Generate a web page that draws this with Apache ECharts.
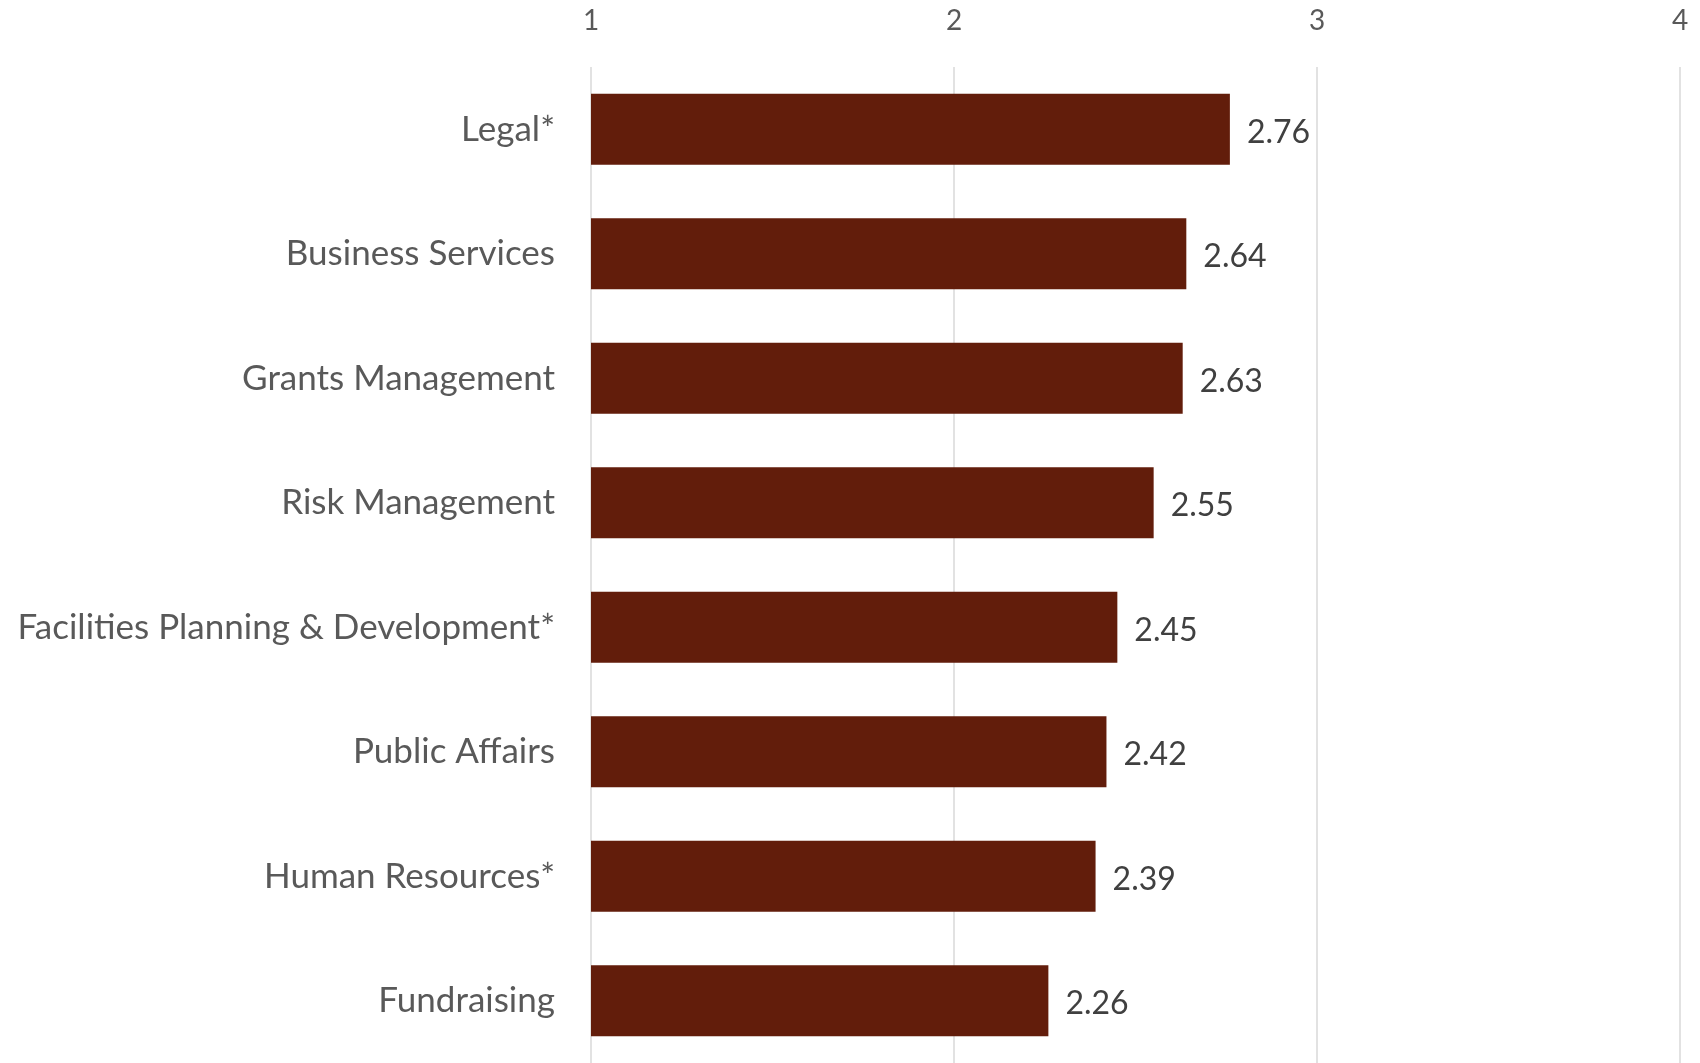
<!DOCTYPE html>
<html>
<head>
<meta charset="utf-8">
<script src="https://cdn.jsdelivr.net/npm/echarts@6/dist/echarts.min.js"></script>
<style>
  html, body { margin: 0; padding: 0; background: #fff; }
  #chart { width: 1700px; height: 1063px; }
</style>
</head>
<body>
<div id="chart"></div>
<script>
// departments, top to bottom
const departments = [
  'Legal*',
  'Business Services',
  'Grants Management',
  'Risk Management',
  'Facilities Planning & Development*',
  'Public Affairs',
  'Human Resources*',
  'Fundraising'
];
const scores = [2.76, 2.64, 2.63, 2.55, 2.45, 2.42, 2.39, 2.26];
const scaleTicks = [1, 2, 3, 4];

const chart = echarts.init(document.getElementById('chart'));

const option = {
  animation: false,
  grid: {
    left: 591,
    right: 20,
    top: 67,
    bottom: 0,
    containLabel: false
  },
  xAxis: {
    type: 'value',
    position: 'top',
    min: scaleTicks[0],
    max: scaleTicks[scaleTicks.length - 1],
    interval: 1,
    axisLine: { show: false },
    axisTick: { show: false },
    axisLabel: {
      margin: 32,
      color: '#595959',
      fontSize: 28,
      fontFamily: 'Lato'
    },
    splitLine: {
      show: true,
      lineStyle: { color: '#D9D9D9', width: 1.5 }
    }
  },
  yAxis: {
    type: 'category',
    data: departments,
    inverse: true,
    axisLine: { show: false },
    axisTick: { show: false },
    axisLabel: {
      margin: 36,
      color: '#595959',
      fontSize: 35,
      fontFamily: 'Lato'
    }
  },
  series: [
    {
      type: 'bar',
      data: scores,
      barWidth: '57%',
      itemStyle: { color: '#621D0B' },
      label: {
        show: true,
        position: 'right',
        distance: 17,
        offset: [0, 3],
        color: '#404040',
        fontSize: 32,
        fontFamily: 'Lato',
        formatter: p => p.value.toFixed(2)
      }
    }
  ]
};

chart.setOption(option);
</script>
</body>
</html>
